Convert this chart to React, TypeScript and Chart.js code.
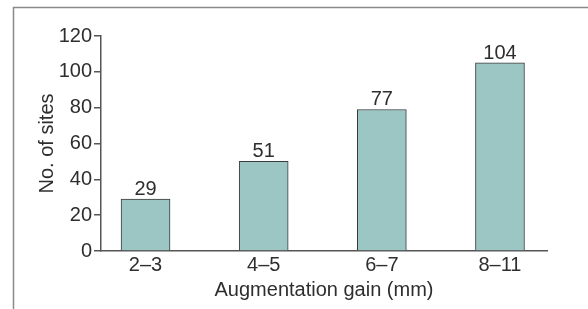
import React, { useEffect, useRef } from "react";
import { Chart, registerables } from "chart.js";

Chart.register(...registerables);

const categories = ["2–3", "4–5", "6–7", "8–11"];
const barHeights = [29, 50, 79, 105];
const valueLabels = ["29", "51", "77", "104"];
const yTicks = [0, 20, 40, 60, 80, 100, 120];

const FONT = "'Liberation Sans', Arial, sans-serif";
const TEXT = "#2e2e2e";
const AXIS = "#555555";

const framePlugin = {
  id: "frame",
  afterDraw(chart: any) {
    const ctx = chart.ctx;
    ctx.save();
    ctx.strokeStyle = "#8a8a8a";
    ctx.lineWidth = 1.5;
    ctx.beginPath();
    ctx.moveTo(13.5, 309);
    ctx.lineTo(13.5, 7.5);
    ctx.lineTo(588, 7.5);
    ctx.stroke();
    ctx.restore();
  },
};

const labelPlugin = {
  id: "valueLabels",
  afterDatasetsDraw(chart: any) {
    const ctx = chart.ctx;
    const meta = chart.getDatasetMeta(0);
    ctx.save();
    ctx.font = `20px ${FONT}`;
    ctx.fillStyle = TEXT;
    ctx.textAlign = "center";
    ctx.textBaseline = "alphabetic";
    meta.data.forEach((bar: any, i: number) => {
      ctx.fillText(valueLabels[i], bar.x, bar.y - 4);
    });
    ctx.restore();
  },
};

export default function App() {
  const ref = useRef<HTMLCanvasElement | null>(null);

  useEffect(() => {
    if (!ref.current) return;
    const chart = new Chart(ref.current, {
      type: "bar",
      data: {
        datasets: [
          {
            data: barHeights.map((v, i) => ({ x: i, y: v })),
            backgroundColor: "#9cc6c4",
            borderColor: "#3a3a3a",
            borderWidth: 1,
            barThickness: 49,
          } as any,
        ],
      },
      options: {
        responsive: false,
        animation: false,
        events: [],
        layout: { padding: { top: 36, right: 41, left: 0, bottom: 0 } },
        plugins: { legend: { display: false }, tooltip: { enabled: false } },
        scales: {
          x: {
            type: "linear",
            offset: false,
            min: -0.377,
            max: 3.398,
            afterBuildTicks: (scale: any) => {
              scale.ticks = categories.map((_, i) => ({ value: i }));
            },
            afterFit: (scale: any) => {
              scale.height = 58;
            },
            ticks: {
              callback: (v: any) => categories[Math.round(Number(v))] ?? "",
              font: { family: FONT, size: 20 },
              color: TEXT,
              padding: 2,
              maxRotation: 0,
              autoSkip: false,
            },
            grid: { display: false, drawTicks: false, offset: false },
            border: { display: true, color: AXIS, width: 1.5 },
            title: {
              display: true,
              text: "Augmentation gain (mm)",
              font: { family: FONT, size: 20 },
              color: TEXT,
              padding: { top: 0, bottom: 7 },
            },
          },
          y: {
            min: 0,
            max: 120,
            afterBuildTicks: (scale: any) => {
              scale.ticks = yTicks.map((v) => ({ value: v }));
            },
            afterFit: (scale: any) => {
              scale.width = 101;
            },
            ticks: {
              font: { family: FONT, size: 20 },
              color: TEXT,
              padding: 2,
            },
            grid: {
              drawOnChartArea: false,
              drawTicks: true,
              tickLength: 7,
              color: AXIS,
              lineWidth: 1.5,
            },
            border: { display: true, color: AXIS, width: 1.5 },
            title: {
              display: true,
              text: "No. of sites",
              font: { family: FONT, size: 20 },
              color: TEXT,
              padding: { top: 35, bottom: 0 },
            },
          },
        },
      },
      plugins: [framePlugin, labelPlugin],
    });
    return () => chart.destroy();
  }, []);

  return (
    <div style={{ position: "absolute", left: 0, top: 0, width: 588, height: 309, background: "#fff" }}>
      <canvas ref={ref} width={588} height={309} style={{ width: 588, height: 309, display: "block" }} />
    </div>
  );
}
